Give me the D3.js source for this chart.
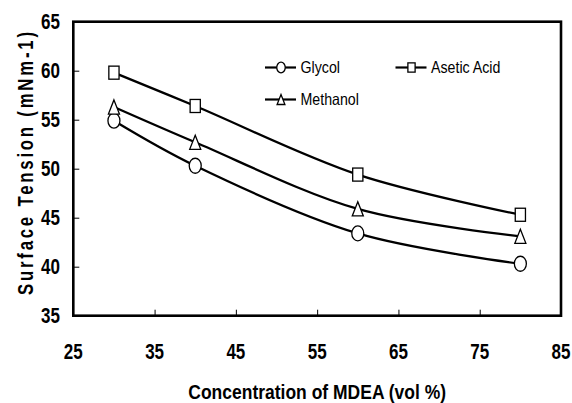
<!DOCTYPE html>
<meta charset="utf-8" />
<script src="https://d3js.org/d3.v7.min.js"></script>
<style>
  body { margin: 0; background: white; }
  text { font-family: "Liberation Sans", Arial, sans-serif; }
</style>
<body>
  <div id="chart"></div>
</body>
<script>
  // data
  const concentration = [30, 40, 60, 80];
  const glycol = [54.9, 50.3, 43.4, 40.3];
  const aseticAcid = [59.8, 56.4, 49.4, 45.3];
  const methanol = [56.3, 52.7, 45.9, 43.1];
  const xTicks = [25, 35, 45, 55, 65, 75, 85];
  const yTicks = [35, 40, 45, 50, 55, 60, 65];

  const width = 572, height = 403;
  const plot = {left: 73.3, right: 561, top: 21.7, bottom: 315.7};
  const stretch = 1.28; // the original picture is a bit taller than it should be

  const svg = d3.select("#chart")
    .append("svg")
      .attr("width", width)
      .attr("height", height);

  const x = d3.scaleLinear().domain([25, 85]).range([plot.left, plot.right]);
  const y = d3.scaleLinear().domain([35, 65]).range([plot.bottom, plot.top]);

  //Inward tick marks
  svg.append("g")
    .attr("transform", "translate(0," + plot.bottom + ")")
    .call(d3.axisBottom(x).tickValues(xTicks.slice(1, -1)).tickSizeInner(-6).tickSizeOuter(0).tickFormat(""))
    .call(g => g.select(".domain").remove())
    .selectAll("line").attr("stroke", "#000").attr("stroke-width", 1);

  svg.append("g")
    .attr("transform", "translate(" + plot.left + ",0)")
    .call(d3.axisLeft(y).tickValues(yTicks.slice(1, -1)).tickSizeInner(-6).tickSizeOuter(0).tickFormat(""))
    .call(g => g.select(".domain").remove())
    .selectAll("line").attr("stroke", "#000").attr("stroke-width", 1);

  //Frame round the plot
  svg.append("rect")
    .attr("x", plot.left)
    .attr("y", plot.top)
    .attr("width", plot.right - plot.left)
    .attr("height", plot.bottom - plot.top)
    .attr("fill", "none")
    .attr("stroke", "#000")
    .attr("stroke-width", 2.6);

  //Tick labels
  svg.append("g").selectAll("text")
    .data(xTicks)
    .enter()
    .append("text")
    .attr("transform", d => "translate(" + x(d) + ",359) scale(1," + stretch + ")")
    .attr("text-anchor", "middle")
    .attr("font-weight", "bold")
    .attr("font-size", 17)
    .text(d => d);

  svg.append("g").selectAll("text")
    .data(yTicks)
    .enter()
    .append("text")
    .attr("transform", d => "translate(60," + (y(d) + 17 * 0.716 * stretch / 2) + ") scale(1," + stretch + ")")
    .attr("text-anchor", "end")
    .attr("font-weight", "bold")
    .attr("font-size", 17)
    .text(d => d);

  //Axis titles
  svg.append("text")
    .attr("transform", "translate(" + ((plot.left + plot.right) / 2) + ",399) scale(1,1.15)")
    .attr("text-anchor", "middle")
    .attr("font-weight", "bold")
    .attr("font-size", 17.5)
    .text("Concentration of MDEA (vol %)");

  // narrow, widely spaced letters like the original
  svg.append("text")
    .attr("transform", "translate(33,163.5) rotate(-90) scale(0.78,1)")
    .attr("text-anchor", "middle")
    .attr("font-weight", "bold")
    .attr("font-size", 21.5)
    .attr("textLength", 263 / 0.78)
    .attr("lengthAdjust", "spacing")
    .text("Surface Tension (mNm-1)");

  //Marker shapes
  function drawMarker(g, shape, size) {
    if (shape == "circle") {
      g.append("ellipse").attr("rx", size / 2).attr("ry", size / 2 * 1.25);
    } else if (shape == "square") {
      const w = size * 0.85, h = w * 1.28;
      g.append("rect").attr("x", -w / 2).attr("y", -h / 2).attr("width", w).attr("height", h);
    } else {
      const w = size * 0.92, h = w * 1.28;
      g.append("path").attr("d", "M0," + (-h / 2) + "L" + (w / 2) + "," + (h / 2) + "L" + (-w / 2) + "," + (h / 2) + "Z");
    }
    g.selectAll("*").attr("fill", "white").attr("stroke", "#000").attr("stroke-width", 1.3);
  }

  const series = [
    {name: "Glycol", values: glycol, shape: "circle"},
    {name: "Asetic Acid", values: aseticAcid, shape: "square"},
    {name: "Methanol", values: methanol, shape: "triangle"}
  ];

  const line = d3.line()
    .x((d, i) => x(concentration[i]))
    .y(d => y(d))
    .curve(d3.curveCatmullRom.alpha(0.5));

  //Creating the smoothed lines and markers
  series.forEach(function(s) {
    svg.append("path")
      .attr("d", line(s.values))
      .attr("fill", "none")
      .attr("stroke", "#000")
      .attr("stroke-width", 2.3);

    svg.append("g").selectAll("g")
      .data(s.values)
      .enter()
      .append("g")
      .attr("transform", (d, i) => "translate(" + x(concentration[i]) + "," + y(d) + ")")
      .each(function() { drawMarker(d3.select(this), s.shape, 12); });
  });

  //Legend
  const legendPos = [[281, 67.5], [411.5, 67.5], [281, 99.5]];
  series.forEach(function(s, i) {
    const g = svg.append("g").attr("transform", "translate(" + legendPos[i][0] + "," + legendPos[i][1] + ")");
    g.append("line")
      .attr("x1", -16).attr("x2", 15)
      .attr("stroke", "#000").attr("stroke-width", 2.2);
    drawMarker(g.append("g"), s.shape, 8.5);
    g.append("text")
      .attr("transform", "translate(19.5,5.5) scale(1,1.22)")
      .attr("font-size", 14.2)
      .text(s.name);
  });
</script>
